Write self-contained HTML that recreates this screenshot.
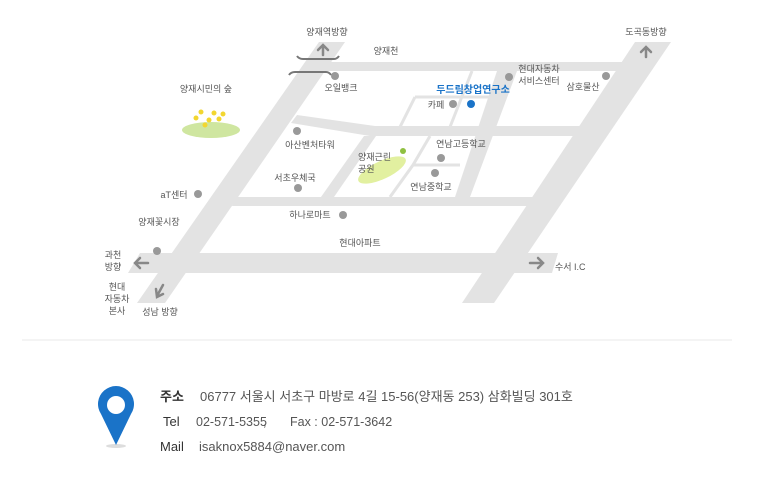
<!DOCTYPE html>
<html><head><meta charset="utf-8"><style>
html,body{margin:0;padding:0;background:#fff;}
body{width:757px;height:482px;overflow:hidden;position:relative;font-family:"Liberation Sans","Noto Sans CJK KR",sans-serif;}
svg{position:absolute;left:0;top:0;}
</style></head><body>
<svg width="757" height="482" viewBox="0 0 757 482" font-family="Liberation Sans, Noto Sans CJK KR, sans-serif">
<g fill="#e3e3e3">
  <polygon points="308,62 650,62 644,71 308,71"/>
  <polygon points="319,42 345,42 165,303 137,303"/>
  <polygon points="635,42 671,42 494,303 462,303"/>
  <polygon points="297,115 375,126 585,126 578,136 370,136 291,123"/>
  <polygon points="497,71 517,71 470,197 455,197"/>
  <polygon points="364,136 376,136 334,197 321,197"/>
  <polygon points="236,197 535,197 530,206 232,206"/>
  <polygon points="140,253 558,253 552,273 128,273"/>
</g>
<g stroke="#e3e3e3" stroke-width="3" fill="none">
  <polyline points="415,97 400,127"/>
  <polyline points="415,97 500,97"/>
  <polyline points="472,71 450,127"/>
  <polyline points="430,136 413,165 390,197"/>
  <polyline points="413,165 460,165"/>
</g>
<path d="M297,56 Q299,59 303,59 L334,59 Q337,59 339,56" stroke="#777" stroke-width="2" fill="none"/>
<path d="M289,75 Q291,72 295,72 L326,72 Q329,72 331,75" stroke="#777" stroke-width="2" fill="none"/>
<g stroke="#888" stroke-width="2.5" fill="none" stroke-linecap="round">
  <path d="M323,55 L323,46 M318,50 L323,45 L328,50"/>
  <path d="M646,57 L646,48 M641,52 L646,47 L651,52"/>
  <path d="M148,263 L136,263 M140,258 L135,263 L140,268"/>
  <path d="M530,263 L542,263 M538,258 L543,263 L538,268"/>
  <path d="M163,285 L157,296 M156,289 L157,297 L163,294"/>
</g>
<ellipse cx="211" cy="130" rx="29" ry="8" fill="#cfe6a0"/>
<g fill="#f2d630"><circle cx="196" cy="118" r="2.5"/><circle cx="201" cy="112" r="2.5"/><circle cx="209" cy="120" r="2.5"/><circle cx="214" cy="113" r="2.5"/><circle cx="219" cy="119" r="2.5"/><circle cx="223" cy="114" r="2.5"/><circle cx="205" cy="125" r="2.5"/></g>
<ellipse cx="382" cy="170" rx="26" ry="9" fill="#e2f0a0" transform="rotate(-25 382 170)"/>
<circle cx="403" cy="151" r="3" fill="#8fc040"/>
<g fill="#999">
  <circle cx="335" cy="76" r="4"/><circle cx="509" cy="77" r="4"/><circle cx="606" cy="76" r="4"/>
  <circle cx="453" cy="104" r="4"/><circle cx="297" cy="131" r="4"/><circle cx="441" cy="158" r="4"/>
  <circle cx="435" cy="173" r="4"/><circle cx="298" cy="188" r="4"/><circle cx="198" cy="194" r="4"/>
  <circle cx="343" cy="215" r="4"/><circle cx="157" cy="251" r="4"/>
</g>
<circle cx="471" cy="104" r="4" fill="#1a73c8"/>
<g font-size="9" fill="#555">
  <text x="327" y="35" text-anchor="middle">양재역방향</text>
  <text x="386" y="54" text-anchor="middle">양재천</text>
  <text x="646" y="35" text-anchor="middle">도곡동방향</text>
  <text x="539" y="72" text-anchor="middle">현대자동차</text>
  <text x="539" y="84" text-anchor="middle">서비스센터</text>
  <text x="583" y="90" text-anchor="middle">삼호물산</text>
  <text x="341" y="91" text-anchor="middle">오일뱅크</text>
  <text x="206" y="92" text-anchor="middle">양재시민의 숲</text>
  <text x="436" y="108" text-anchor="middle">카페</text>
  <text x="310" y="148" text-anchor="middle">아산벤처타워</text>
  <text x="461" y="147" text-anchor="middle">연남고등학교</text>
  <text x="358" y="160">양재근린</text>
  <text x="358" y="172">공원</text>
  <text x="295" y="181" text-anchor="middle">서초우체국</text>
  <text x="431" y="190" text-anchor="middle">연남중학교</text>
  <text x="174" y="198" text-anchor="middle">aT센터</text>
  <text x="159" y="225" text-anchor="middle">양재꽃시장</text>
  <text x="310" y="218" text-anchor="middle">하나로마트</text>
  <text x="360" y="246" text-anchor="middle">현대아파트</text>
  <text x="113" y="258" text-anchor="middle">과천</text>
  <text x="113" y="270" text-anchor="middle">방향</text>
  <text x="555" y="270">수서 I.C</text>
  <text x="117" y="290" text-anchor="middle">현대</text>
  <text x="117" y="302" text-anchor="middle">자동차</text>
  <text x="117" y="314" text-anchor="middle">본사</text>
  <text x="160" y="315" text-anchor="middle">성남 방향</text>
</g>
<text x="473" y="93" text-anchor="middle" font-size="10" font-weight="bold" fill="#1a73c8">두드림창업연구소</text>
<line x1="22" y1="340" x2="732" y2="340" stroke="#e8e8e8" stroke-width="1"/>
<ellipse cx="116" cy="446" rx="10" ry="2" fill="#ddd"/>
<path d="M116,445 L101,414 A18,18 0 1 1 131,414 Z" fill="#1a73c8"/>
<circle cx="116" cy="405" r="9" fill="#fff"/>
<g font-size="13" fill="#333">
  <text x="160" y="401" font-weight="bold">주소</text>
  <text x="200" y="401" fill="#555">06777 서울시 서초구 마방로 4길 15-56(양재동 253) 삼화빌딩 301호</text>
  <text x="163" y="426">Tel</text>
  <text x="196" y="426" fill="#555" font-size="12.5">02-571-5355</text>
  <text x="263" y="426" fill="#555" font-size="12.5">,</text>
  <text x="290" y="426" fill="#555" font-size="12.5">Fax : 02-571-3642</text>
  <text x="160" y="451">Mail</text>
  <text x="199" y="451" fill="#555">isaknox5884@naver.com</text>
</g>
</svg>
</body></html>
